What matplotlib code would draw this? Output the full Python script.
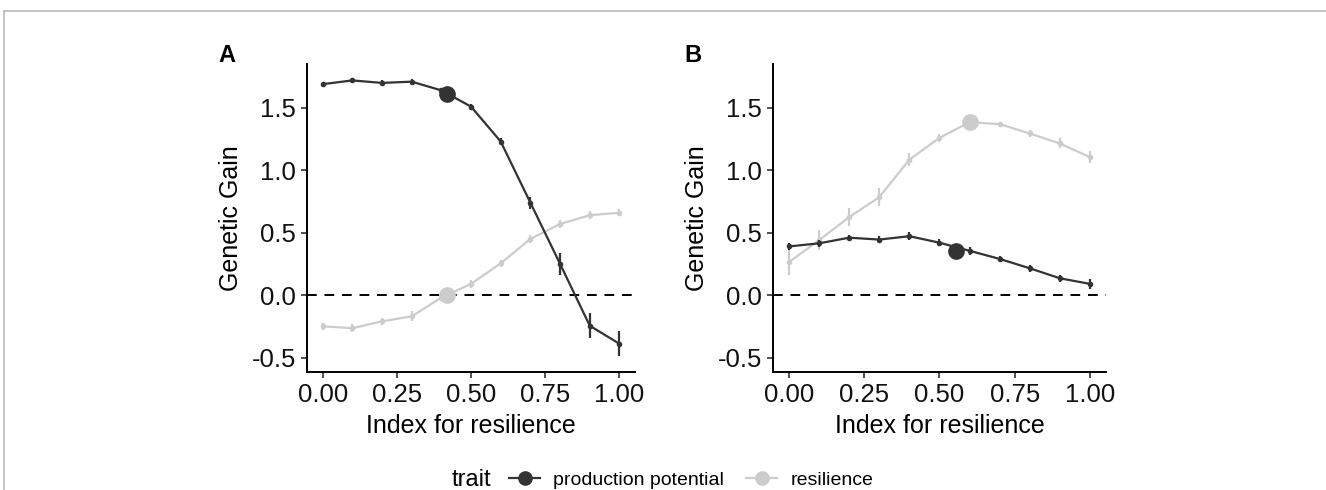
import matplotlib
matplotlib.use('Agg')
import matplotlib.pyplot as plt
from matplotlib.lines import Line2D
from matplotlib.transforms import offset_copy

plt.rcParams['font.family'] = ['Liberation Sans', 'DejaVu Sans']

idx = [0.0, 0.1, 0.2, 0.3, 0.4, 0.5, 0.6, 0.7, 0.8, 0.9, 1.0]

# panel A
prod_a = [1.69, 1.72, 1.70, 1.71, 1.64, 1.51, 1.23, 0.74, 0.25, -0.245, -0.39]
prod_a_err = [0.02, 0.02, 0.02, 0.02, 0.02, 0.02, 0.03, 0.05, 0.09, 0.10, 0.10]
res_a = [-0.25, -0.265, -0.21, -0.17, -0.02, 0.09, 0.255, 0.45, 0.57, 0.64, 0.66]
res_a_err = [0.03, 0.03, 0.03, 0.04, 0.03, 0.03, 0.03, 0.03, 0.03, 0.03, 0.03]
opt_a_x = 0.42
opt_a_prod = 1.61
opt_a_res = 0.0

# panel B
prod_b = [0.39, 0.415, 0.46, 0.445, 0.472, 0.42, 0.355, 0.29, 0.215, 0.135, 0.09]
prod_b_err = [0.03, 0.03, 0.025, 0.03, 0.03, 0.03, 0.03, 0.025, 0.03, 0.03, 0.04]
res_b = [0.265, 0.44, 0.625, 0.785, 1.085, 1.26, 1.385, 1.37, 1.295, 1.215, 1.105]
res_b_err = [0.10, 0.08, 0.07, 0.07, 0.05, 0.03, 0.02, 0.02, 0.03, 0.04, 0.05]
opt_b_prod_x = 0.556
opt_b_prod = 0.355
opt_b_res_x = 0.60
opt_b_res = 1.385

dark = '#333333'
light = '#cccccc'

fig = plt.figure(figsize=(13.26, 4.9), dpi=100)
axA = fig.add_axes([0.2315, 0.2408, 0.2475, 0.6282])
axB = fig.add_axes([0.583, 0.2408, 0.251, 0.6282])


def draw(ax, prod, perr, res, rerr, opts, label):
    ax.axhline(0, color='black', linestyle=(0, (5, 4)), linewidth=1.4, zorder=1)
    ax.errorbar(idx, res, yerr=rerr, color=light, marker='o', markersize=3,
                linewidth=1.6, elinewidth=1.6, capsize=0, zorder=2)
    ax.errorbar(idx, prod, yerr=perr, color=dark, marker='o', markersize=3,
                linewidth=1.6, elinewidth=1.6, capsize=0, zorder=3)
    for x, y, c in opts:
        ax.plot([x], [y], 'o', color=c, markersize=11, zorder=4)
    ax.set_xlim(-0.053, 1.053)
    ax.set_ylim(-0.616, 1.85)
    ax.set_xticks([0, 0.25, 0.5, 0.75, 1.0])
    ax.set_xticklabels(['0.00', '0.25', '0.50', '0.75', '1.00'])
    ax.set_yticks([-0.5, 0, 0.5, 1.0, 1.5])
    ax.set_yticklabels(['-0.5', '0.0', '0.5', '1.0', '1.5'])
    ax.tick_params(labelsize=18.5, length=4, width=1.2, color='#333333',
                   labelcolor='#111111', pad=4)
    for s in ['top', 'right']:
        ax.spines[s].set_visible(False)
    for s in ['left', 'bottom']:
        ax.spines[s].set_linewidth(1.4)
    ax.set_xlabel('Index for resilience', fontsize=18, labelpad=5)
    ax.set_ylabel('Genetic Gain', fontsize=18, labelpad=6)
    tr = offset_copy(ax.transAxes, fig=fig, x=-89, y=-3, units='dots')
    ax.text(0, 1.0, label, transform=tr, fontsize=17,
            fontweight='bold', ha='left', va='bottom')


draw(axA, prod_a, prod_a_err, res_a, res_a_err,
     [(opt_a_x, opt_a_prod, dark), (opt_a_x, opt_a_res, light)], 'A')
draw(axB, prod_b, prod_b_err, res_b, res_b_err,
     [(opt_b_prod_x, opt_b_prod, dark), (opt_b_res_x, opt_b_res, light)], 'B')

handles = [Line2D([], [], color=dark, marker='o', markersize=9.5, linewidth=1.6),
           Line2D([], [], color=light, marker='o', markersize=9.5, linewidth=1.6)]
fig.legend(handles, ['production potential', 'resilience'], ncol=2,
           loc='center left', bbox_to_anchor=(0.3839, 0.0204), frameon=False,
           fontsize=14, handlelength=1.6, columnspacing=1.13, handletextpad=0.67,
           borderpad=0, borderaxespad=0)
fig.text(0.3409, 0.0204, 'trait', fontsize=17, ha='left', va='center')

# thin frame around the figure
fig.add_artist(Line2D([0.003, 1.0], [0.9775, 0.9775], color='#bbbbbb',
                      linewidth=1.2, transform=fig.transFigure))
fig.add_artist(Line2D([0.003, 0.003], [0.0, 0.9775], color='#bbbbbb',
                      linewidth=1.2, transform=fig.transFigure))

fig.savefig('out.png', dpi=100)
